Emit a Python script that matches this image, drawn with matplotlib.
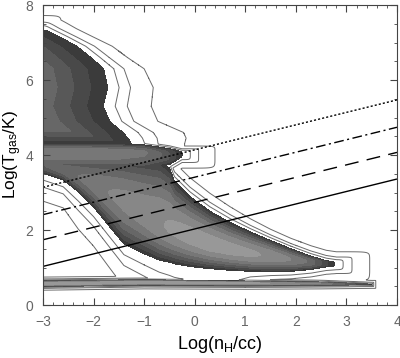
import numpy as np
import matplotlib
matplotlib.use("Agg")
import matplotlib.pyplot as plt
from matplotlib.ticker import MultipleLocator

plt.rcParams['font.family'] = ['Liberation Sans', 'DejaVu Sans']
plt.rcParams['mathtext.default'] = 'regular'

# ---------------- data ----------------
# Reference lines (Log T at x=-3 and x=4)
line_x = [-3.0, 4.0]
solid_T = [1.03, 3.36]
dashed_T = [1.74, 4.07]
dashdot_T = [2.41, 4.74]
dotted_T = [3.14, 5.47]

# Cold/diagonal branch, sampled along log n
diag_x = [-3.0, -2.6, -2.3, -2.0, -1.7, -1.4, -1.0, -0.7, -0.5, -0.4, -0.1, 0.3, 0.7, 1.1, 1.5, 1.9, 2.3, 2.6, 2.8]
diag_lower = [3.52, 3.34, 3.02, 2.62, 2.12, 1.63, 1.37, 1.20, 1.14, 1.10, 1.03, 0.97, 0.93, 0.90, 0.89, 0.90, 0.95, 1.02, 1.04]
diag_upper = [3.95, 3.95, 3.95, 3.95, 3.95, 3.95, 3.92, 3.88, 3.65, 3.30, 2.90, 2.50, 2.20, 1.95, 1.72, 1.50, 1.30, 1.18, 1.14]
diag_core = [3.75, 3.60, 3.42, 3.22, 3.00, 2.78, 2.45, 2.20, 2.05, 2.00, 1.82, 1.62, 1.48, 1.38, 1.30, 1.22, 1.15, 1.11, 1.09]
diag_peak = [3.0, 3.5, 4.0, 4.5, 5.0, 5.3, 5.6, 5.9, 6.1, 6.2, 6.4, 6.5, 6.4, 6.2, 5.8, 5.0, 3.8, 2.2, 0.8]
diag_gap_up = [0.3, 0.3, 0.3, 0.3, 0.3, 0.3, 0.3, 0.35, 0.45, 0.5, 0.5, 0.48, 0.42, 0.35, 0.3, 0.28, 0.28, 0.28, 0.28]
diag_gap_low = [0.75, 0.75, 1.0, 1.05, 1.1, 1.15, 1.2, 1.3, 1.4, 1.45, 1.5, 1.5, 1.3, 0.6, 0.42, 0.4, 0.4, 0.4, 0.4]
diag_tip, diag_tip_gap = 2.76, 0.70
diag_floor, diag_floor_gap = 0.66, 0.12

# Hot halo, sampled along log T
halo_T = [4.30, 4.45, 4.60, 4.90, 5.30, 5.80, 6.30, 6.60, 6.90, 7.15, 7.37, 7.60]
halo_edge = [-1.25, -1.32, -1.42, -1.68, -1.81, -1.72, -1.80, -2.05, -2.33, -2.67, -3.0, -3.3]
halo_gap = [1.05, 1.15, 1.2, 0.95, 0.95, 0.9, 0.8, 0.72, 0.7, 0.66, 0.66, 0.66]
halo_top, halo_top_gap = 7.37, 0.35
halo_bottom = 4.25

# Warm (1e4 K) band
warm_x = [-3.0, -1.5, -1.0, -0.5, -0.25]
warm_upper = [4.32, 4.30, 4.27, 4.17, 4.09]
warm_lower = [3.55, 3.55, 3.6, 3.75, 3.95]
warm_core = [4.08, 4.08, 4.07, 4.00, 4.02]
warm_peak = [4.6, 4.6, 4.2, 2.6, 1.0]
warm_end, warm_end_gap = -0.25, 0.65

# Very cold thin band
band_x = [-3.0, -1.0, 1.0, 2.5, 3.5]
band_core = [0.57, 0.60, 0.58, 0.57, 0.55]
band_half = [0.075, 0.07, 0.06, 0.04, 0.006]
band_peak = [7.0, 7.0, 6.5, 5.0, 0.8]
band_end, band_end_gap = 3.5, 0.08

fill_levels = [0, 1, 2, 3, 4, 5, 6, 7, 100]
fill_colors = ['#3b3b3b', '#494949', '#585858', '#676767', '#777777',
               '#878787', '#989898', '#a9a9a9']
line_levels = [-3, -2, -1]

# ---------------- field construction ----------------
gx = np.linspace(-3, 4, 701)
gy = np.linspace(0, 8, 801)
X, T = np.meshgrid(gx, gy)


def outside(frac):
    return np.interp(frac, [0, 0.25, 0.5, 1.0, 2.0], [0, -1, -2, -3, -5])


def softmin(a, b, k=4.0):
    m = np.minimum(a, b)
    return m - np.log(np.exp(-k * (a - m)) + np.exp(-k * (b - m))) / k


def ridge(Xv, Tv, xs, lo, up, core, peak, gup, glo):
    l = np.interp(Xv, xs, lo)
    u = np.interp(Xv, xs, up)
    c = np.interp(Xv, xs, core)
    a = np.interp(Xv, xs, peak)
    gu = np.interp(Xv, xs, gup) if np.ndim(gup) else gup
    gl = np.interp(Xv, xs, glo) if np.ndim(glo) else glo
    qa = (Tv - c) / np.maximum(u - c, 1e-3)
    qb = (c - Tv) / np.maximum(c - l, 1e-3)
    F = np.where(Tv >= c,
                 np.where(qa <= 1, a * (1 - qa ** 2), outside((Tv - u) / gu)),
                 np.where(qb <= 1, a * (1 - qb ** 2), outside((l - Tv) / gl)))
    return F


def xclip(Xv, xend, gap, k=8.0):
    return np.where(Xv < xend, k * (xend - Xv), outside((Xv - xend) / gap))


# diagonal
FD = ridge(X, T, diag_x, diag_lower, diag_upper, diag_core, diag_peak,
           np.array(diag_gap_up), np.array(diag_gap_low))
FD = softmin(FD, xclip(X, diag_tip, diag_tip_gap))
FD = np.minimum(FD, np.where(T > diag_floor, 20 * (T - diag_floor),
                             outside((diag_floor - T) / diag_floor_gap)))

# halo
xe = np.interp(T, halo_T, halo_edge)
hg = np.interp(T, halo_T, halo_gap)
FH = np.where(X < xe, np.minimum(3.0 * (xe - X), 3.6), outside((X - xe) / hg))
FH = softmin(FH, np.where(T < halo_top, 8 * (halo_top - T),
                          outside((T - halo_top) / halo_top_gap)))
FH = np.minimum(FH, np.where(T > halo_bottom, 8 * (T - halo_bottom),
                             outside((halo_bottom - T) / 0.3)))

# warm band
FW = ridge(X, T, warm_x, warm_lower, warm_upper, warm_core, warm_peak, 0.15, 0.3)
FW = softmin(FW, xclip(X, warm_end, warm_end_gap))

# cold band
band_lo = [c - h for c, h in zip(band_core, band_half)]
band_up = [c + h for c, h in zip(band_core, band_half)]
FB = ridge(X, T, band_x, band_lo, band_up, band_core, band_peak, 0.1, 0.1)
FB = np.minimum(FB, xclip(X, band_end, band_end_gap, k=40.0))

F = np.maximum.reduce([FD, FH, FW, FB])

# ---------------- plotting ----------------
fig = plt.figure(figsize=(4.0, 3.58), dpi=100)
ax = fig.add_axes([0.1075, 0.148, 0.885, 0.838])

ax.contourf(gx, gy, F, levels=fill_levels, colors=fill_colors)
ax.contour(gx, gy, F, levels=line_levels, colors='#6a6a6a', linewidths=0.7,
           linestyles='solid')

ax.plot(line_x, solid_T, color='black', lw=1.0, solid_capstyle='butt')
ax.plot(line_x, dashed_T, color='black', lw=1.0, dashes=(10, 6))
ax.plot(line_x, dashdot_T, color='black', lw=1.0, dashes=(7, 2.5, 1.5, 2.5))
ax.plot(line_x, dotted_T, color='black', lw=1.0, dashes=(1.5, 1.5))

ax.set_xlim(-3, 4)
ax.set_ylim(0, 8)
ax.xaxis.set_major_locator(MultipleLocator(1))
ax.xaxis.set_minor_locator(MultipleLocator(0.2))
ax.yaxis.set_major_locator(MultipleLocator(2))
ax.yaxis.set_minor_locator(MultipleLocator(0.5))
ax.tick_params(which='both', direction='in', top=True, right=True,
               colors='#444444', labelcolor='#666666', labelsize=10)
ax.tick_params(which='major', length=5, width=0.8, pad=7)
ax.tick_params(which='minor', length=2.5, width=0.6)
for s in ax.spines.values():
    s.set_color('#444444')
    s.set_linewidth(0.8)

ax.set_xticklabels([f'{int(v)}'.replace('-', '\u2212') for v in ax.get_xticks()])
ax.set_xlabel('Log(n$_H$/cc)', fontsize=13, color='black', labelpad=4)
ax.set_ylabel('Log(T$_{gas}$/K)', fontsize=12.5, color='black', labelpad=1)

fig.savefig('out.png', dpi=100)
